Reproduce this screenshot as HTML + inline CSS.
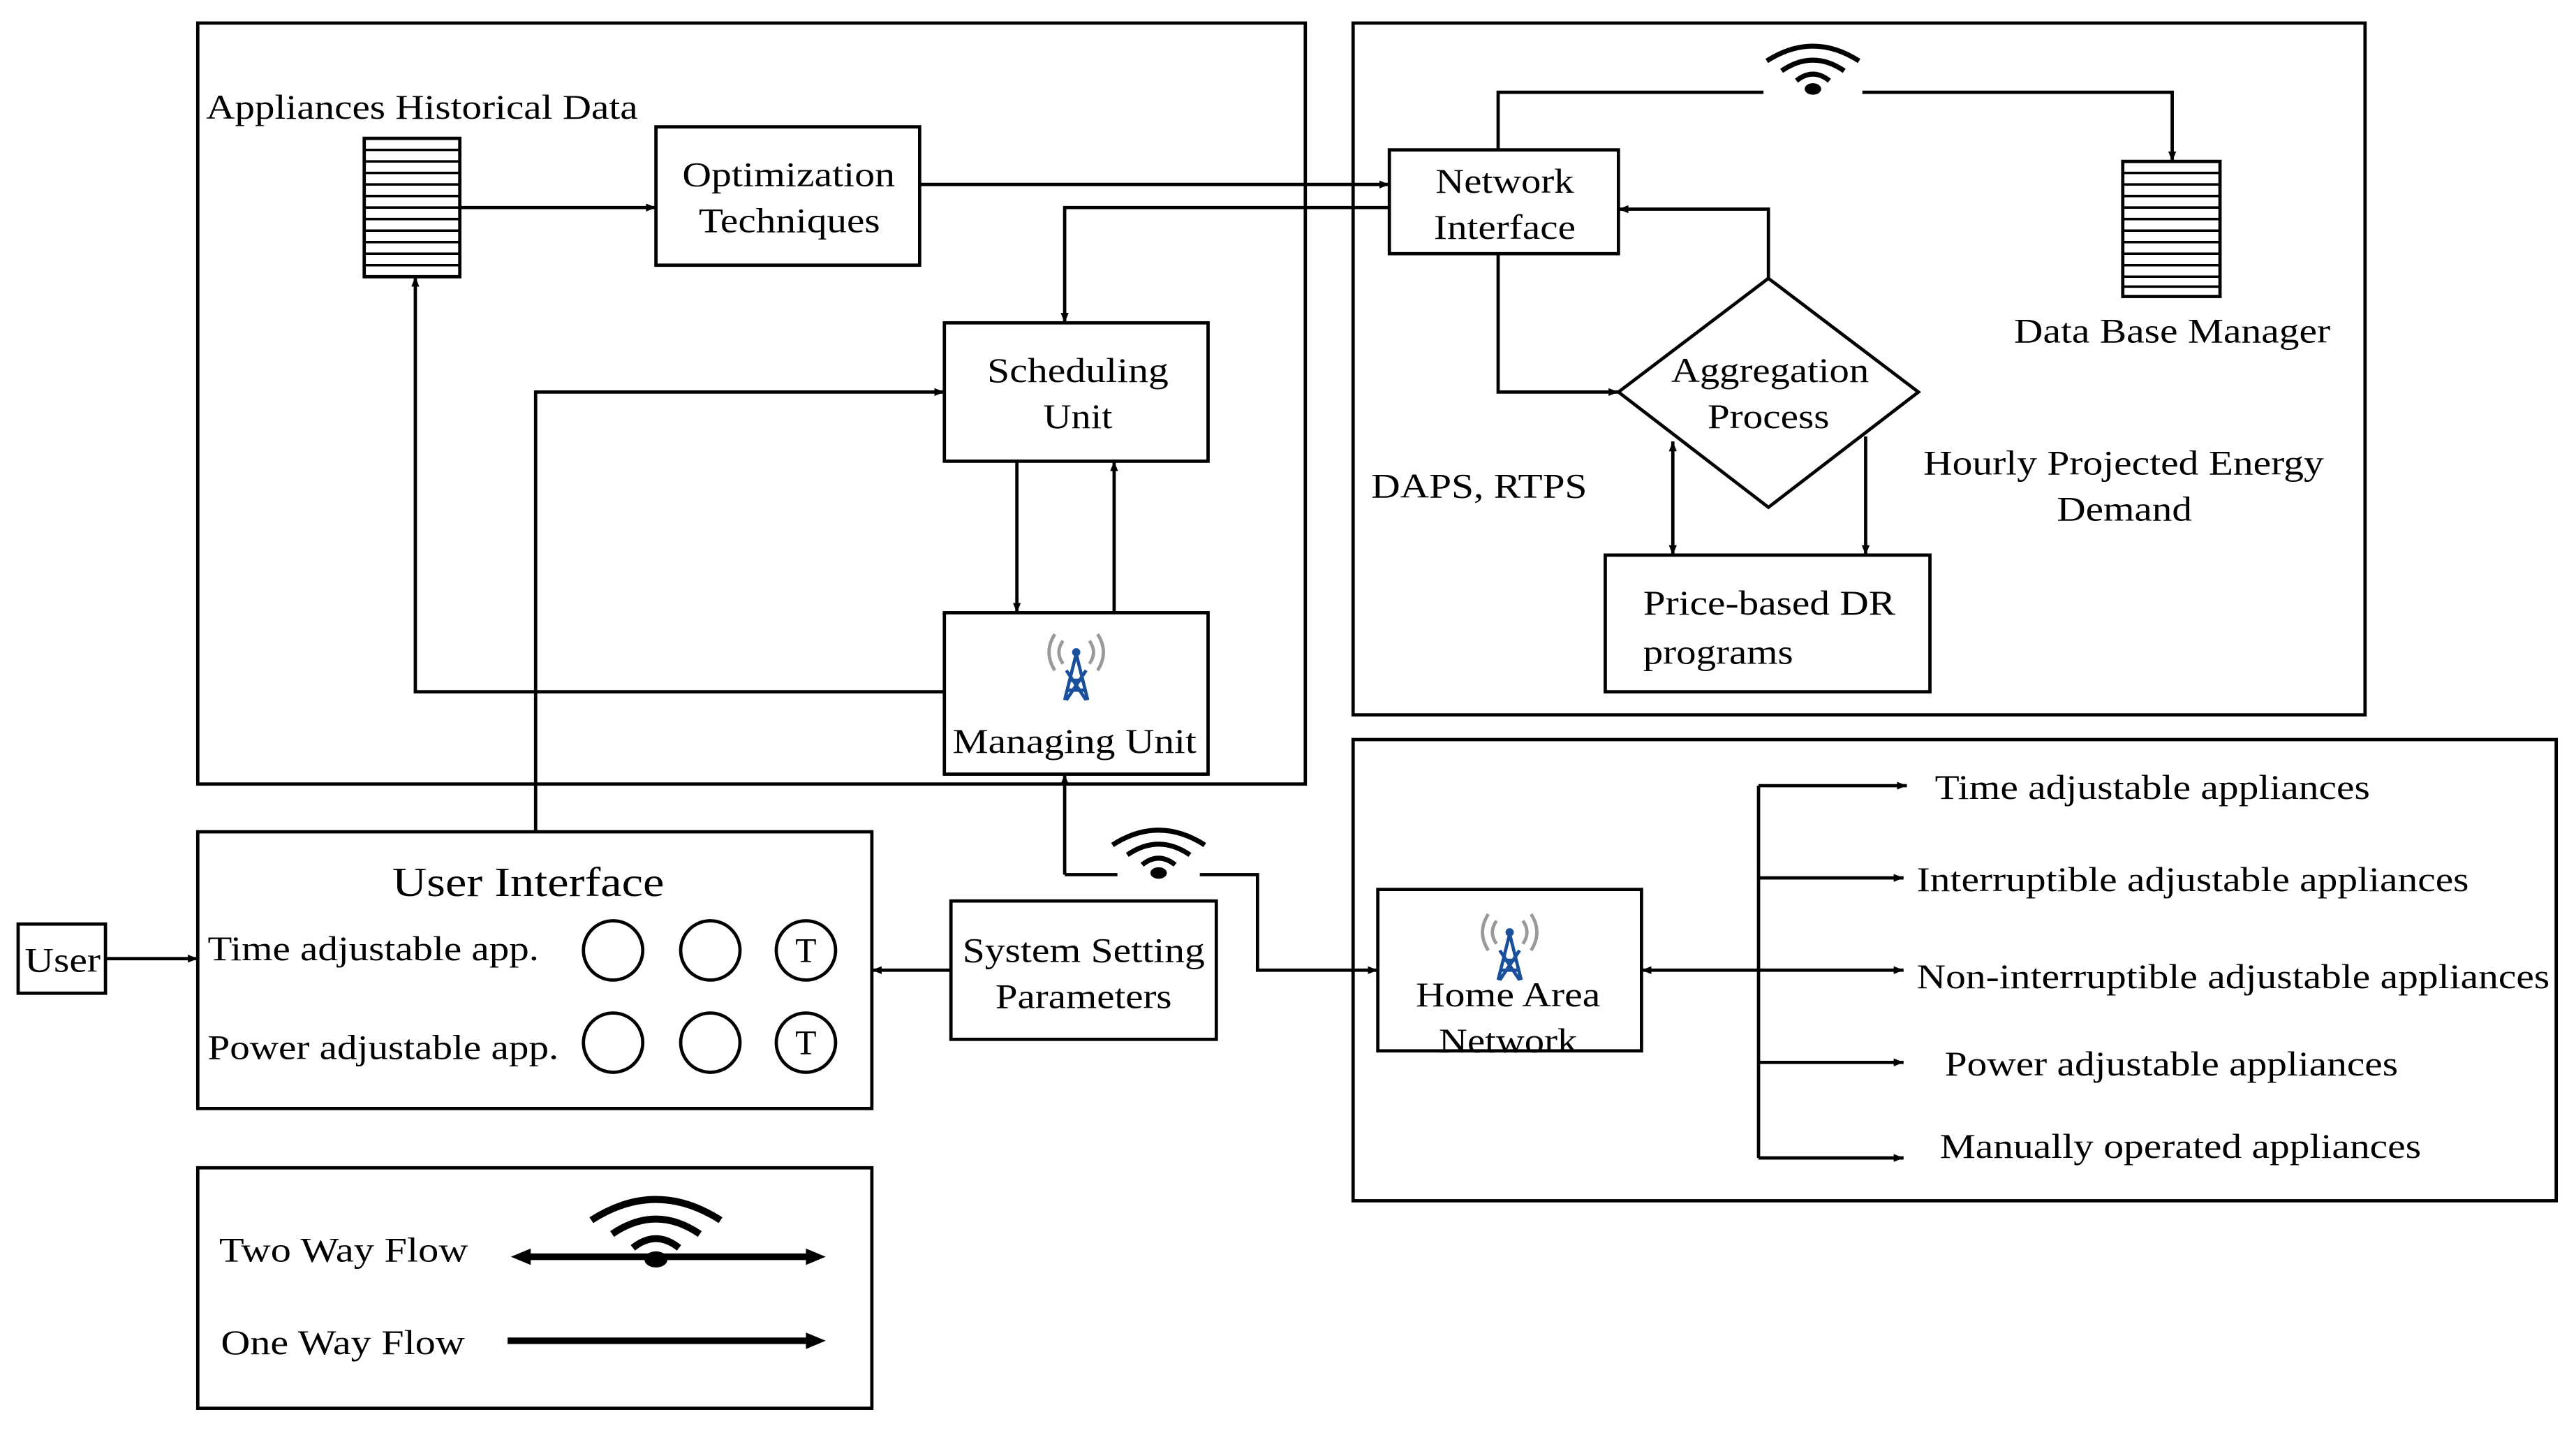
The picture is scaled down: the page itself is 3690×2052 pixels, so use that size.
<!DOCTYPE html>
<html><head><meta charset="utf-8"><style>
html,body{margin:0;padding:0;background:#fff;}
svg{display:block;}
</style></head><body>
<svg width="3690" height="2052" viewBox="0 0 1563 870" preserveAspectRatio="none" xmlns="http://www.w3.org/2000/svg">
<defs>
<marker id="a" viewBox="0 0 10 10" refX="10" refY="5" markerWidth="6" markerHeight="6" orient="auto-start-reverse" markerUnits="userSpaceOnUse"><path d="M0,1 L10,5 L0,9 z" fill="#000"/></marker>
<g id="wifi"><path d="M-28,-8 Q0,-26 28,-8" fill="none" stroke="#000" stroke-width="3"/><path d="M-19,-2 Q0,-15 19,-2" fill="none" stroke="#000" stroke-width="3"/><path d="M-10,4 Q0,-4 10,4" fill="none" stroke="#000" stroke-width="3"/><ellipse cx="0" cy="9" rx="5" ry="3.5" fill="#000"/></g>
<g id="ant"><path d="M-7,20 L0,-8 L7,20 M-4,8 L4,8 M-5,14 L5,14 M-6,20 L6,2 M6,20 L-6,2" stroke="#1a4f9c" stroke-width="2" fill="none"/><circle cx="0" cy="-9" r="2.5" fill="#1a4f9c"/><path d="M-8,-16 Q-13,-9 -8,-2 M8,-16 Q13,-9 8,-2 M-13,-20 Q-20,-9 -13,2 M13,-20 Q20,-9 13,2" stroke="#999" stroke-width="2" fill="none"/></g>
</defs>
<g fill="none" stroke="#000" stroke-width="2">
<rect x="120" y="14" width="672" height="462"/>
<rect x="821" y="14" width="614" height="420"/>
<rect x="821" y="449" width="730" height="280"/>
<rect x="398" y="77" width="160" height="84"/>
<rect x="843" y="91" width="139" height="63"/>
<rect x="573" y="196" width="160" height="84"/>
<rect x="573" y="372" width="160" height="98"/>
<path d="M1073,169 L1164,238 L1073,308 L982,238 z"/>
<rect x="974" y="337" width="197" height="83"/>
<rect x="120" y="505" width="409" height="168"/>
<rect x="11" y="561" width="53" height="42"/>
<rect x="577" y="547" width="161" height="84"/>
<rect x="836" y="540" width="160" height="98"/>
<rect x="120" y="709" width="409" height="146"/>
<circle cx="372" cy="577" r="18"/><circle cx="431" cy="577" r="18"/><circle cx="489" cy="577" r="18"/>
<circle cx="372" cy="633" r="18"/><circle cx="431" cy="633" r="18"/><circle cx="489" cy="633" r="18"/>
</g>
<g stroke="#000" stroke-width="1.5">
<rect x="221" y="84" width="58" height="84" fill="#fff" stroke-width="2"/>
<path d="M221,91h58M221,98h58M221,105h58M221,112h58M221,119h58M221,126h58M221,133h58M221,140h58M221,147h58M221,154h58M221,161h58"/>
<rect x="1288" y="98" width="59" height="82" fill="#fff" stroke-width="2"/>
<path d="M1288,105h59M1288,112h59M1288,119h59M1288,126h59M1288,133h59M1288,140h59M1288,147h59M1288,154h59M1288,161h59M1288,168h59M1288,174h59"/>
</g>
<g fill="none" stroke="#000" stroke-width="2">
<path d="M279,126H398" marker-end="url(#a)"/>
<path d="M558,112H843" marker-end="url(#a)"/>
<path d="M843,126H646V196" marker-end="url(#a)"/>
<path d="M325,505V238H573" marker-end="url(#a)"/>
<path d="M617,280V372" marker-end="url(#a)"/>
<path d="M676,372V280" marker-end="url(#a)"/>
<path d="M573,420H252V168" marker-end="url(#a)"/>
<path d="M909,91V56H1070"/>
<path d="M1130,56H1318V98" marker-end="url(#a)"/>
<path d="M909,154V238H982" marker-end="url(#a)"/>
<path d="M1073,169V127H982" marker-end="url(#a)"/>
<path d="M1015,268V337" marker-start="url(#a)" marker-end="url(#a)"/>
<path d="M1132,265V337" marker-end="url(#a)"/>
<path d="M646,531V470" marker-end="url(#a)"/>
<path d="M646,531H678"/>
<path d="M728,531H763V589H836" marker-end="url(#a)"/>
<path d="M577,589H529" marker-end="url(#a)"/>
<path d="M64,582H120" marker-end="url(#a)"/>
<path d="M1067,589H996" marker-end="url(#a)"/>
<path d="M1067,477V703"/>
<path d="M1067,477H1157" marker-end="url(#a)"/>
<path d="M1067,533H1155" marker-end="url(#a)"/>
<path d="M1067,589H1155" marker-end="url(#a)"/>
<path d="M1067,645H1155" marker-end="url(#a)"/>
<path d="M1067,703H1155" marker-end="url(#a)"/>
</g>
<path d="M318,763H492" stroke="#000" stroke-width="4"/>
<path d="M310,763 L322,758 L322,768 z M501,763 L489,758 L489,768 z" fill="#000"/>
<path d="M308,814H492" stroke="#000" stroke-width="4"/>
<path d="M501,814 L489,809 L489,819 z" fill="#000"/>
<use href="#wifi" x="1100" y="45"/>
<use href="#wifi" x="703" y="521"/>
<g transform="translate(398,752) scale(1.4)"><use href="#wifi"/></g>
<use href="#ant" x="653" y="405"/>
<use href="#ant" x="916" y="575"/>
<g font-size="21" font-family="Liberation Serif, Times New Roman, serif" fill="#000" lengthAdjust="spacingAndGlyphs">
<text x="125" y="72" textLength="262" lengthAdjust="spacingAndGlyphs">Appliances Historical Data</text>
<text x="414" y="113" textLength="129" lengthAdjust="spacingAndGlyphs">Optimization</text>
<text x="424" y="141" textLength="110" lengthAdjust="spacingAndGlyphs">Techniques</text>
<text x="871" y="117" textLength="84" lengthAdjust="spacingAndGlyphs">Network</text>
<text x="870" y="145" textLength="86" lengthAdjust="spacingAndGlyphs">Interface</text>
<text x="599" y="232" textLength="110" lengthAdjust="spacingAndGlyphs">Scheduling</text>
<text x="633" y="260" textLength="42" lengthAdjust="spacingAndGlyphs">Unit</text>
<text x="578" y="457" textLength="148" lengthAdjust="spacingAndGlyphs">Managing Unit</text>
<text x="1014" y="232" textLength="120" lengthAdjust="spacingAndGlyphs">Aggregation</text>
<text x="1036" y="260" textLength="74" lengthAdjust="spacingAndGlyphs">Process</text>
<text x="997" y="373" textLength="153" lengthAdjust="spacingAndGlyphs">Price-based DR</text>
<text x="997" y="403" textLength="91" lengthAdjust="spacingAndGlyphs">programs</text>
<text x="1222" y="208" textLength="192" lengthAdjust="spacingAndGlyphs">Data Base Manager</text>
<text x="832" y="302" textLength="131" lengthAdjust="spacingAndGlyphs">DAPS, RTPS</text>
<text x="1167" y="288" textLength="243" lengthAdjust="spacingAndGlyphs">Hourly Projected Energy</text>
<text x="1248" y="316" textLength="82" lengthAdjust="spacingAndGlyphs">Demand</text>
<text x="238" y="544" font-size="25" textLength="165" lengthAdjust="spacingAndGlyphs">User Interface</text>
<text x="126" y="583" textLength="201" lengthAdjust="spacingAndGlyphs">Time adjustable app.</text>
<text x="126" y="643" textLength="213" lengthAdjust="spacingAndGlyphs">Power adjustable app.</text>
<text x="489" y="584" text-anchor="middle">T</text>
<text x="489" y="640" text-anchor="middle">T</text>
<text x="15" y="590" textLength="46" lengthAdjust="spacingAndGlyphs">User</text>
<text x="584" y="584" textLength="147" lengthAdjust="spacingAndGlyphs">System Setting</text>
<text x="604" y="612" textLength="107" lengthAdjust="spacingAndGlyphs">Parameters</text>
<text x="859" y="611" textLength="112" lengthAdjust="spacingAndGlyphs">Home Area</text>
<text x="873" y="639" textLength="84" lengthAdjust="spacingAndGlyphs">Network</text>
<text x="1174" y="485" textLength="264" lengthAdjust="spacingAndGlyphs">Time adjustable appliances</text>
<text x="1163" y="541" textLength="335" lengthAdjust="spacingAndGlyphs">Interruptible adjustable appliances</text>
<text x="1163" y="600" textLength="384" lengthAdjust="spacingAndGlyphs">Non-interruptible adjustable appliances</text>
<text x="1180" y="653" textLength="275" lengthAdjust="spacingAndGlyphs">Power adjustable appliances</text>
<text x="1177" y="703" textLength="292" lengthAdjust="spacingAndGlyphs">Manually operated appliances</text>
<text x="133" y="766" textLength="151" lengthAdjust="spacingAndGlyphs">Two Way Flow</text>
<text x="134" y="822" textLength="148" lengthAdjust="spacingAndGlyphs">One Way Flow</text>
</g>
</svg>
</body></html>
